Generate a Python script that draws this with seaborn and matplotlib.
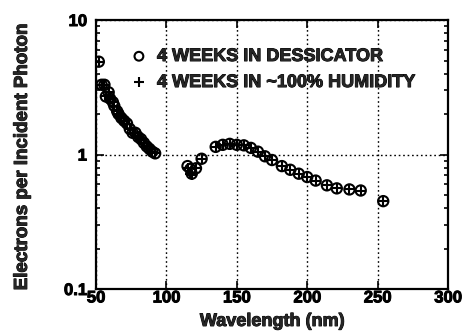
import matplotlib
matplotlib.use("Agg")
import matplotlib.pyplot as plt
import matplotlib.patheffects as pe
import seaborn as sns
import numpy as np
from matplotlib.ticker import LogLocator, FixedLocator, NullFormatter, FuncFormatter

# Data
wavelength = [52, 54, 56, 57, 59, 60, 62, 63, 65, 66, 68, 70, 72, 74, 76, 78, 80, 82, 84, 86, 88, 90, 92,
              115, 117, 118, 121, 125,
              135, 140, 145, 150, 155, 160, 165, 170, 175, 182, 188, 194, 200, 206, 214, 221, 230, 238,
              254]
dessicator = [4.9, 3.3, 3.3, 2.7, 2.9, 2.6, 2.45, 2.3, 2.1, 2.0, 1.87, 1.78, 1.7, 1.55, 1.45, 1.45, 1.35, 1.3, 1.22, 1.15, 1.1, 1.05, 1.02,
              0.82, 0.78, 0.72, 0.79, 0.93,
              1.14, 1.18, 1.2, 1.18, 1.17, 1.12, 1.05, 0.97, 0.91, 0.82, 0.77, 0.72, 0.68, 0.64, 0.59, 0.56, 0.55, 0.54,
              0.45]
humidity = [4.9, 3.3, 3.3, 2.7, 2.9, 2.6, 2.45, 2.3, 2.1, 2.0, 1.87, 1.78, 1.7, 1.55, 1.45, 1.45, 1.35, 1.3, 1.22, 1.15, 1.1, 1.05, 1.02,
            0.8, 0.72, 0.7, 0.79, 0.93,
            1.14, 1.18, 1.2, 1.18, 1.17, 1.12, 1.05, 0.97, 0.91, 0.82, 0.77, 0.72, 0.68, 0.64, 0.59, 0.56, 0.55, 0.54,
            0.45]
labels = ["4 WEEKS IN DESSICATOR", "4 WEEKS IN ~100% HUMIDITY"]
xticks = [50, 100, 150, 200, 250, 300]

sns.set_style("ticks")
plt.rcParams['font.family'] = ['Liberation Sans', 'DejaVu Sans']
plt.rcParams['font.weight'] = 'bold'

heavy = [pe.withStroke(linewidth=0.7, foreground='black')]

fig = plt.figure(figsize=(4.62, 3.33), dpi=100)
ax = fig.add_axes([0.2078, 0.1321, 0.7619, 0.8078])

sns.scatterplot(x=wavelength, y=dessicator, ax=ax, marker='o', s=55,
                facecolor='none', edgecolor='black', linewidth=1.5, label=labels[0], zorder=3)
sns.scatterplot(x=wavelength, y=humidity, ax=ax, marker='+', s=45,
                color='black', linewidth=1.5, label=labels[1], zorder=4)

ax.set_yscale('log')
ax.set_xlim(50, 300)
ax.set_ylim(0.1, 10)
ax.xaxis.set_major_locator(FixedLocator(xticks))
ax.yaxis.set_major_locator(FixedLocator([0.1, 1, 10]))
ax.yaxis.set_major_formatter(FuncFormatter(lambda v, p: {0.1: '0.1', 1.0: '1', 10.0: '10'}.get(round(v, 1), '')))
ax.yaxis.set_minor_locator(LogLocator(base=10, subs=np.arange(2, 10)))
ax.yaxis.set_minor_formatter(NullFormatter())

ax.grid(True, which='major', color='black', linestyle=(0, (1.2, 2)), linewidth=1.0)
ax.tick_params(which='both', direction='in', top=True, right=True, width=1.2, colors='black', labelsize=12)
ax.tick_params(which='major', length=6)
ax.tick_params(which='minor', length=3)
ax.tick_params(axis='x', pad=1)
ax.tick_params(axis='y', pad=6.5)
for lab in ax.get_xticklabels() + ax.get_yticklabels():
    lab.set_fontweight('bold')
    lab.set_path_effects(heavy)
for s in ax.spines.values():
    s.set_linewidth(1.6)
    s.set_color('black')

xl = ax.set_xlabel("Wavelength (nm)", fontsize=13, fontweight='bold')
yl = ax.set_ylabel("Electrons per Incident Photon", fontsize=13.5, fontweight='bold')
ax.xaxis.set_label_coords(0.5, -0.089)
ax.yaxis.set_label_coords(-0.185, 0.49)
xl.set_path_effects(heavy)
yl.set_path_effects(heavy)

leg = ax.legend(loc='center left', bbox_to_anchor=(0.045, 0.816), frameon=False,
                prop={'weight': 'bold', 'size': 13}, handletextpad=0.4, labelspacing=0.5,
                handlelength=1.2)
handles = leg.legend_handles
handles[0].set_sizes([40])
handles[1].set_sizes([60])
for t in leg.get_texts():
    t.set_path_effects(heavy)

fig.savefig("out.png", dpi=100)
